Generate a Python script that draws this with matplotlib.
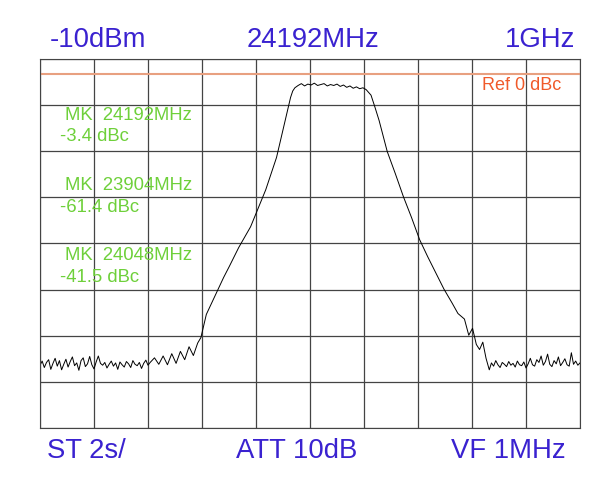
import matplotlib.pyplot as plt
import numpy as np

plt.rcParams["font.family"] = ["Liberation Sans", "DejaVu Sans"]

# ------------------------------
# Data
# ------------------------------
CENTER_MHZ = 24192
SPAN_MHZ = 1000
REF_DBC = 0.0
TOP_DB, BOTTOM_DB = 3.4, -76.6

left_noise_f = list(range(23692, 23896, 4))
left_noise_db = [-63.0, -62.1, -63.5, -62.4, -61.8, -63.9, -62.6, -61.5, -63.2, -62.0,
                 -64.0, -62.8, -61.7, -63.4, -62.2, -61.2, -63.1, -62.5, -64.1, -62.0,
                 -61.4, -63.3, -62.7, -61.1, -62.9, -63.8, -62.3, -61.0, -62.6, -63.0,
                 -62.4, -63.6, -62.8, -62.1, -63.2, -62.5, -63.9, -62.3, -62.9, -63.4,
                 -62.2, -62.7, -63.5, -62.0, -62.8, -63.1, -62.4, -63.7, -62.6, -61.9,
                 -63.0]
edge_f = [23896, 23904, 23912, 23920, 23928, 23936, 23944, 23952, 23960, 23968, 23976, 23984,
          23990, 24000, 24010, 24020, 24032, 24043, 24060, 24082, 24096, 24110, 24120, 24130,
          24140, 24150, 24156, 24160, 24164]
edge_db = [-62.4, -61.4, -62.8, -61.0, -62.9, -60.5, -62.6, -60.0, -61.8, -59.0, -60.9, -58.2,
           -57.0, -52.0, -49.5, -47.0, -44.0, -41.5, -37.5, -33.0, -29.0, -25.0, -21.5, -18.0,
           -13.0, -8.0, -5.0, -3.6, -2.9]
top_f = [24170, 24176, 24182, 24188, 24194, 24200, 24206, 24212, 24218, 24224, 24230, 24236,
         24242, 24248, 24254, 24260, 24266, 24272, 24278, 24284, 24290, 24296]
top_db = [-2.4, -2.0, -2.5, -2.1, -2.3, -1.9, -2.4, -2.2, -2.0, -2.5, -2.2, -2.4,
          -2.1, -2.6, -2.3, -2.8, -2.5, -3.0, -2.7, -3.1, -2.9, -3.3]
fall_f = [24305, 24312, 24320, 24335, 24350, 24365, 24380, 24395, 24410, 24425, 24440, 24455,
          24466, 24478, 24486, 24493, 24500, 24506, 24512, 24518, 24524]
fall_db = [-4.5, -7.0, -10.0, -16.7, -21.5, -26.5, -31.0, -35.8, -39.5, -43.0, -46.5, -49.5,
           -51.8, -53.0, -56.5, -55.0, -58.5, -59.6, -58.0, -61.5, -64.0]
right_noise_f = list(range(24528, 24696, 4))
right_noise_db = [-62.5, -63.2, -62.0, -62.9, -63.5, -62.4, -62.8, -63.3, -62.2, -63.0,
                  -62.6, -63.4, -62.1, -62.9, -63.1, -62.3, -63.6, -62.7, -61.5, -62.9,
                  -63.2, -61.8, -62.4, -61.0, -63.0, -62.2, -60.6, -62.8, -63.3, -62.0,
                  -62.7, -61.2, -63.1, -62.4, -61.6, -62.9, -63.2, -60.3, -62.8, -62.1,
                  -63.0, -62.5]

header = ["-10dBm", "24192MHz", "1GHz"]
footer = ["ST 2s/", "ATT 10dB", "VF 1MHz"]
markers = [("MK  24192MHz", "-3.4 dBc"), ("MK  23904MHz", "-61.4 dBc"), ("MK  24048MHz", "-41.5 dBc")]

BLUE = "#3a22d0"
GREEN = "#6ed03a"
ORANGE = "#f05a2a"


def main():
    freq = left_noise_f + edge_f + top_f + fall_f + right_noise_f[:len(right_noise_db)]
    level = left_noise_db + edge_db + top_db + fall_db + right_noise_db

    fig = plt.figure(figsize=(6.13, 4.79), dpi=100)
    ax = fig.add_axes([40 / 613, 1 - 428 / 479, 540 / 613, 369.3 / 479])

    lo = CENTER_MHZ - SPAN_MHZ / 2
    hi = CENTER_MHZ + SPAN_MHZ / 2
    ax.set_xlim(lo, hi)
    ax.set_ylim(BOTTOM_DB, TOP_DB)
    ax.set_xticks(np.arange(lo, hi + 1, SPAN_MHZ / 10))
    ax.set_yticks(np.arange(TOP_DB, BOTTOM_DB - 1, -10))
    ax.grid(True, color="#444444", lw=0.9)
    ax.tick_params(length=0, labelbottom=False, labelleft=False)
    for s in ax.spines.values():
        s.set_color("#444444")

    ax.axhline(REF_DBC, color="#e8a080", lw=1.5)
    ax.plot(freq, level, color="black", lw=0.7)

    ax.text(0.965, REF_DBC - 0.5, "Ref 0 dBc", transform=ax.get_yaxis_transform(),
            ha="right", va="top", color=ORANGE, fontsize=13)

    for i, (mk, val) in enumerate(markers):
        y0 = 115 + i * 70
        fig.text(65 / 613, 1 - y0 / 479, mk, color=GREEN, fontsize=13.3, va="center")
        fig.text(60 / 613, 1 - (y0 + 22) / 479, val, color=GREEN, fontsize=13.3, va="center")

    fig.text(50 / 613, 1 - 40 / 479, header[0], color=BLUE, fontsize=19.8, va="center")
    fig.text(313 / 613, 1 - 40 / 479, header[1], color=BLUE, fontsize=19.8, va="center", ha="center")
    fig.text(575 / 613, 1 - 40 / 479, header[2], color=BLUE, fontsize=19.8, va="center", ha="right")
    fig.text(47 / 613, 1 - 451 / 479, footer[0], color=BLUE, fontsize=19.8, va="center")
    fig.text(297 / 613, 1 - 451 / 479, footer[1], color=BLUE, fontsize=19.8, va="center", ha="center")
    fig.text(566 / 613, 1 - 451 / 479, footer[2], color=BLUE, fontsize=19.8, va="center", ha="right")

    fig.savefig("out.png", dpi=100)


if __name__ == "__main__":
    main()
